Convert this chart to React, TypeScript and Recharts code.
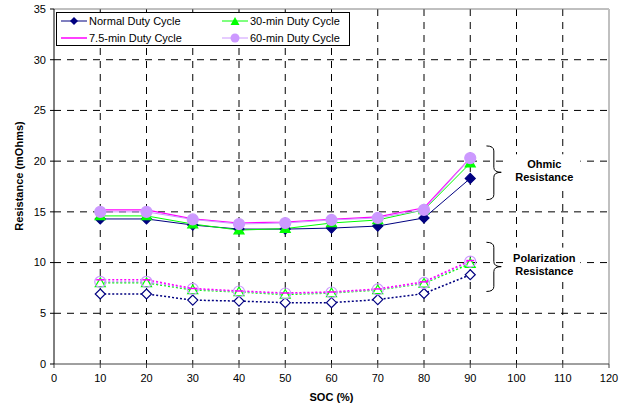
import {
  LineChart,
  Line,
  XAxis,
  YAxis,
  CartesianGrid,
  ReferenceLine,
  ReferenceArea,
  ReferenceDot,
} from "recharts";

// SOC points (%)
const soc = [10, 20, 30, 40, 50, 60, 70, 80, 90];

// Ohmic resistance (mOhms)
const normalOhmic = [14.3, 14.3, 13.7, 13.3, 13.3, 13.4, 13.6, 14.4, 18.3];
const min30Ohmic = [14.6, 14.6, 13.8, 13.2, 13.35, 13.9, 14.2, 15.2, 19.8];
const min75Ohmic = [15.2, 15.2, 14.3, 13.9, 14.0, 14.25, 14.5, 15.4, 20.3];
const min60Ohmic = [15.0, 15.0, 14.25, 13.8, 13.9, 14.2, 14.4, 15.2, 20.3];

// Polarization resistance (mOhms)
const normalPol = [6.9, 6.9, 6.3, 6.2, 6.05, 6.05, 6.35, 6.95, 8.8];
const min30Pol = [8.0, 8.0, 7.3, 7.1, 6.85, 7.0, 7.3, 7.95, 9.9];
const min75Pol = [8.3, 8.3, 7.45, 7.2, 7.0, 7.1, 7.4, 8.1, 10.2];
const min60Pol = [8.1, 8.1, 7.4, 7.15, 6.95, 7.05, 7.35, 8.0, 10.1];

const xTicks = [0, 10, 20, 30, 40, 50, 60, 70, 80, 90, 100, 110, 120];
const yTicks = [0, 5, 10, 15, 20, 25, 30, 35];

const legendNames = [
  "Normal Duty Cycle",
  "30-min Duty Cycle",
  "7.5-min Duty Cycle",
  "60-min Duty Cycle",
];

// brace annotations
const ohmicNote = { x1: 93.5, x2: 96.7, top: 21.5, bottom: 16.2, point: 18.9, lx: 106, ly: 19.1, text: ["Ohmic", "Resistance"] };
const polNote = { x1: 93.5, x2: 96.7, top: 12.0, bottom: 7.15, point: 9.6, lx: 106, ly: 9.9, text: ["Polarization", "Resistance"] };

const NAVY = "#000080";
const GREEN = "#00FF00";
const MAGENTA = "#FF00FF";
const LAVENDER = "#CC99FF";
const FONT = "'Liberation Sans', Arial, sans-serif";

const data = soc.map((s, i) => ({
  soc: s,
  normalOhmic: normalOhmic[i],
  min30Ohmic: min30Ohmic[i],
  min75Ohmic: min75Ohmic[i],
  min60Ohmic: min60Ohmic[i],
  normalPol: normalPol[i],
  min30Pol: min30Pol[i],
  min75Pol: min75Pol[i],
  min60Pol: min60Pol[i],
}));

const diamondPath = (cx: number, cy: number, s: number) =>
  `M${cx},${cy - s} L${cx + s},${cy} L${cx},${cy + s} L${cx - s},${cy} Z`;
const trianglePath = (cx: number, cy: number, s: number) =>
  `M${cx},${cy - s} L${cx + s},${cy + s * 0.75} L${cx - s},${cy + s * 0.75} Z`;

const diamondDot = (fill: string) => (props: any) => {
  const { cx, cy, index } = props;
  if (cx == null || cy == null) return <g key={index} />;
  return <path key={index} d={diamondPath(cx, cy, 5)} fill={fill} stroke={NAVY} strokeWidth={1.2} />;
};

const triangleDot = (fill: string) => (props: any) => {
  const { cx, cy, index } = props;
  if (cx == null || cy == null) return <g key={index} />;
  return <path key={index} d={trianglePath(cx, cy, 5)} fill={fill} stroke={GREEN} strokeWidth={1.2} />;
};

const circleDot = (fill: string) => (props: any) => {
  const { cx, cy, index } = props;
  if (cx == null || cy == null) return <g key={index} />;
  return <circle key={index} cx={cx} cy={cy} r={5.5} fill={fill} stroke={LAVENDER} strokeWidth={1.2} />;
};

const dashDot = (props: any) => {
  const { cx, cy, index } = props;
  if (cx == null || cy == null) return <g key={index} />;
  return <line key={index} x1={cx - 4} x2={cx + 4} y1={cy} y2={cy} stroke={MAGENTA} strokeWidth={1.5} />;
};

const Brace = (props: any) => {
  const { x, y, width, height, point } = props;
  const x0 = x;
  const x2 = x + width;
  const xm = x + width / 2;
  const y0 = y;
  const y1 = y + height;
  const r = 5;
  const d = `M${x0},${y0} Q${xm},${y0} ${xm},${y0 + r} L${xm},${point - r} Q${xm},${point} ${x2},${point} Q${xm},${point} ${xm},${point + r} L${xm},${y1 - r} Q${xm},${y1} ${x0},${y1}`;
  return <path d={d} fill="none" stroke="#000" strokeWidth={1} />;
};

const NoteText = (lines: string[]) => (props: any) => {
  const { cx, cy } = props;
  return (
    <g>
      <rect x={cx - 36} y={cy - 16} width={72} height={33} fill="#fff" />
      <text x={cx} y={cy} textAnchor="middle" fontFamily={FONT} fontSize={11} fontWeight="bold" fill="#000">
        <tspan x={cx} dy={-2}>{lines[0]}</tspan>
        <tspan x={cx} dy={13}>{lines[1]}</tspan>
      </text>
    </g>
  );
};

function LegendIcon({ kind }: { kind: number }) {
  return (
    <svg width={26} height={12} style={{ marginRight: 2 }}>
      {kind === 0 && (
        <>
          <line x1={0} x2={26} y1={6} y2={6} stroke={NAVY} strokeWidth={1} />
          <path d={diamondPath(13, 6, 4)} fill={NAVY} />
        </>
      )}
      {kind === 1 && (
        <>
          <line x1={0} x2={26} y1={6} y2={6} stroke={GREEN} strokeWidth={1} />
          <path d={trianglePath(13, 6.5, 4.5)} fill={GREEN} />
        </>
      )}
      {kind === 2 && <line x1={0} x2={26} y1={6} y2={6} stroke={MAGENTA} strokeWidth={1.5} />}
      {kind === 3 && (
        <>
          <line x1={0} x2={26} y1={6} y2={6} stroke={LAVENDER} strokeWidth={1} />
          <circle cx={13} cy={6} r={4.5} fill={LAVENDER} />
        </>
      )}
    </svg>
  );
}

function ChartLegend() {
  const item = (i: number) => (
    <div style={{ display: "flex", alignItems: "center", height: 17 }}>
      <LegendIcon kind={i} />
      <span>{legendNames[i]}</span>
    </div>
  );
  return (
    <div
      style={{
        position: "absolute",
        left: 56,
        top: 12,
        width: 294,
        height: 34,
        background: "#fff",
        border: "1px solid #000",
        fontFamily: FONT,
        fontSize: 11,
        color: "#000",
        display: "grid",
        gridTemplateColumns: "161px 130px",
        alignContent: "center",
        paddingLeft: 4,
        boxSizing: "border-box",
      }}
    >
      {item(0)}
      {item(1)}
      {item(2)}
      {item(3)}
    </div>
  );
}

export default function App() {
  return (
    <div style={{ position: "absolute", left: 0, top: 0, width: 628, height: 408, background: "#fff" }}>
      <LineChart width={628} height={408} data={data} margin={{ top: 9, right: 19, left: 0, bottom: 0 }}>
        <CartesianGrid
          stroke="#000"
          strokeDasharray="7 6"
          horizontalValues={[5, 10, 15, 20, 25, 30]}
          verticalValues={[10, 20, 30, 40, 50, 60, 70, 80, 90, 100, 110]}
        />
        <XAxis
          dataKey="soc"
          type="number"
          domain={[0, 120]}
          ticks={xTicks}
          interval={0}
          height={44}
          tickSize={4}
          tickMargin={6}
          stroke="#404040"
          tick={{ fill: "#000", fontSize: 11, fontFamily: FONT }}
          label={({ viewBox }: any) => (
            <text
              x={viewBox.x + viewBox.width / 2}
              y={401}
              textAnchor="middle"
              fontFamily={FONT}
              fontSize={11}
              fontWeight="bold"
              fill="#000"
            >
              SOC (%)
            </text>
          )}
        />
        <YAxis
          type="number"
          domain={[0, 35]}
          ticks={yTicks}
          interval={0}
          width={54}
          tickSize={4}
          tickMargin={4}
          stroke="#000"
          tick={{ fill: "#000", fontSize: 11, fontFamily: FONT }}
          label={() => (
            <text
              x={23}
              y={176}
              transform="rotate(-90, 23, 176)"
              textAnchor="middle"
              fontFamily={FONT}
              fontSize={11}
              fontWeight="bold"
              fill="#000"
            >
              Resistance (mOhms)
            </text>
          )}
        />
        <ReferenceLine y={35} stroke="#808080" strokeWidth={1} />
        <ReferenceLine x={120} stroke="#C0C0C0" strokeWidth={2} />

        <ReferenceArea
          x1={ohmicNote.x1}
          x2={ohmicNote.x2}
          y1={ohmicNote.bottom}
          y2={ohmicNote.top}
          shape={(p: any) => <Brace {...p} point={p.y + (p.height * (ohmicNote.top - ohmicNote.point)) / (ohmicNote.top - ohmicNote.bottom)} />}
        />
        <ReferenceArea
          x1={polNote.x1}
          x2={polNote.x2}
          y1={polNote.bottom}
          y2={polNote.top}
          shape={(p: any) => <Brace {...p} point={p.y + (p.height * (polNote.top - polNote.point)) / (polNote.top - polNote.bottom)} />}
        />
        <ReferenceDot x={ohmicNote.lx} y={ohmicNote.ly} r={0} shape={NoteText(ohmicNote.text)} />
        <ReferenceDot x={polNote.lx} y={polNote.ly} r={0} shape={NoteText(polNote.text)} />

        {/* polarization (dotted) */}
        <Line dataKey="normalPol" stroke={NAVY} strokeWidth={1.5} strokeDasharray="2 2" dot={diamondDot("#fff")} isAnimationActive={false} />
        <Line dataKey="min30Pol" stroke={GREEN} strokeWidth={1.5} strokeDasharray="2 2" dot={triangleDot("#fff")} isAnimationActive={false} />
        <Line dataKey="min60Pol" stroke={LAVENDER} strokeWidth={1.5} strokeDasharray="2 2" dot={circleDot("none")} isAnimationActive={false} />
        <Line dataKey="min75Pol" stroke={MAGENTA} strokeWidth={1.5} strokeDasharray="2 2" dot={dashDot} isAnimationActive={false} />

        {/* ohmic (solid) */}
        <Line dataKey="normalOhmic" stroke={NAVY} strokeWidth={1} dot={diamondDot(NAVY)} isAnimationActive={false} />
        <Line dataKey="min30Ohmic" stroke={GREEN} strokeWidth={1} dot={triangleDot(GREEN)} isAnimationActive={false} />
        <Line dataKey="min75Ohmic" stroke={MAGENTA} strokeWidth={1.2} dot={dashDot} isAnimationActive={false} />
        <Line dataKey="min60Ohmic" stroke={LAVENDER} strokeWidth={1} dot={circleDot(LAVENDER)} isAnimationActive={false} />
      </LineChart>
      <ChartLegend />
    </div>
  );
}
